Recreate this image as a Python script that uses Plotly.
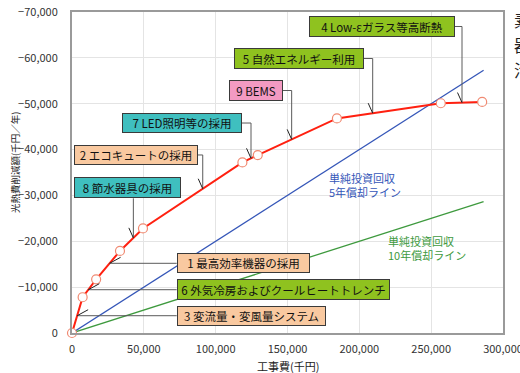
import numpy as np
import plotly.graph_objects as go

# Cumulative construction cost (thousand yen) and annual utility-cost saving (thousand yen/yr)
cost_k = [0, 7400, 16800, 33400, 49400, 118600, 129300, 184400, 256700, 285500]
saving_k = [0, -7800, -11700, -17900, -22800, -37200, -38800, -46800, -50100, -50400]

# Measures, in the order they are added along the curve
measure_names = [
    "3 変流量・変風量システム",
    "6 外気冷房およびクールヒートトレンチ",
    "1 最高効率機器の採用",
    "8 節水器具の採用",
    "2 エコキュートの採用",
    "7 LED照明等の採用",
    "9 BEMS",
    "5 自然エネルギー利用",
    "4 Low-εガラス等高断熱",
]

# Simple-payback reference lines
payback_x = [0, 286500]
payback5_y = [0, -57300]
payback10_y = [0, -28650]

x_ticks = [0, 50000, 100000, 150000, 200000, 250000, 300000]
y_ticks = [0, -10000, -20000, -30000, -40000, -50000, -60000, -70000]

# ---- layout geometry ----
W, H = 520, 373
ML, MR, MT, MB = 72, 17, 12, 40
PW, PH = W - ML - MR, H - MT - MB
XU = 300000 / PW   # data units per pixel (x)
YU = 70000 / PH    # data units per pixel (y)

PEACH, GREEN, TEAL, PINK = "#f9c9a0", "#8fc21f", "#3fbfbf", "#f39ac2"

# label box placement: left edge (x), centre (y), width/height (px), fill, callout kind, callout x
label_boxes = [
    dict(x=72880, y=-3770, w=149, h=20, fill=PEACH, kind="left"),
    dict(x=72880, y=-9440, w=213, h=21, fill=GREEN, kind="left"),
    dict(x=72880, y=-15200, w=133, h=20, fill=PEACH, kind="left"),
    dict(x=1390, y=-31660, w=107, h=21, fill=TEAL, kind="bottom", xe=42700),
    dict(x=1390, y=-38820, w=124, h=20, fill=PEACH, kind="right", xe=91000),
    dict(x=34800, y=-45790, w=120, h=20, fill=TEAL, kind="right", xe=124600),
    dict(x=109280, y=-52880, w=54, h=21, fill=PINK, kind="right", xe=152900),
    dict(x=112760, y=-59860, w=130, h=21, fill=GREEN, kind="right", xe=209300),
    dict(x=164970, y=-66840, w=146, h=21, fill=GREEN, kind="right", xe=271460),
]

FONT = "Noto Sans CJK JP, Noto Sans, Arial, sans-serif"

fig = go.Figure()

fig.add_trace(go.Scatter(
    x=payback_x, y=payback10_y, mode="lines",
    line=dict(color="#3e9a3e", width=1.3), hoverinfo="skip"))
fig.add_trace(go.Scatter(
    x=payback_x, y=payback5_y, mode="lines",
    line=dict(color="#3556b8", width=1.3), hoverinfo="skip"))
fig.add_trace(go.Scatter(
    x=cost_k, y=saving_k, mode="lines+markers",
    line=dict(color="#ff2010", width=2),
    marker=dict(size=9, color="white", line=dict(color="#f08a72", width=1.2)),
    cliponaxis=False))

shapes = []
annotations = []
cost_arr = np.array(cost_k, dtype=float)
sav_arr = np.array(saving_k, dtype=float)

for name, b in zip(measure_names, label_boxes):
    left = b["x"]
    right = left + b["w"] * XU
    cy = b["y"]
    bottom = cy + b["h"] / 2 * YU
    if b["kind"] == "left":
        ye = cy
        xe = float(np.interp(-ye, -sav_arr, cost_arr))
        path = f"M {left},{cy} L {xe},{ye}"
        tick = f"M {xe},{ye} L {xe + 11 * XU},{ye - 6 * YU}"
    else:
        xe = b["xe"]
        ye = float(np.interp(xe, cost_arr, sav_arr))
        if b["kind"] == "right":
            path = f"M {right},{cy} L {xe},{cy} L {xe},{ye}"
        else:
            path = f"M {xe},{bottom} L {xe},{ye}"
        tick = f"M {xe - 4.5 * XU},{ye - 10 * YU} L {xe},{ye}"
    shapes.append(dict(type="path", path=path, xref="x", yref="y",
                       line=dict(color="#5a5a5a", width=1), layer="above"))
    shapes.append(dict(type="path", path=tick, xref="x", yref="y",
                       line=dict(color="#222222", width=1), layer="above"))
    annotations.append(dict(
        x=left, y=cy, xref="x", yref="y", xanchor="left", yanchor="middle",
        text=name, showarrow=False, align="center",
        width=b["w"] - 2, height=b["h"] - 2, borderpad=0,
        bgcolor=b["fill"], bordercolor="#3a3a3a", borderwidth=1,
        font=dict(family=FONT, size=11.5, color="#111111")))

# payback line captions
annotations.append(dict(
    x=177490, y=-32380, xref="x", yref="y", xanchor="left", yanchor="middle",
    text="単純投資回収<br>5年償却ライン", showarrow=False, align="left",
    font=dict(family=FONT, size=11, color="#3556b8")))
annotations.append(dict(
    x=218560, y=-18645, xref="x", yref="y", xanchor="left", yanchor="middle",
    text="単純投資回収<br>10年償却ライン", showarrow=False, align="left",
    font=dict(family=FONT, size=11, color="#3e9a3e")))

# axis titles
annotations.append(dict(
    x=(15 - ML) / PW, y=(H - MB - 162) / PH, xref="paper", yref="paper",
    text="光熱費削減額(千円／年)", textangle=-90, showarrow=False,
    xanchor="center", yanchor="middle",
    font=dict(family=FONT, size=9.5, color="#222222")))
annotations.append(dict(
    x=0.5, y=(H - MB - 366) / PH, xref="paper", yref="paper",
    text="工事費(千円)", showarrow=False, xanchor="center", yanchor="middle",
    font=dict(family=FONT, size=11, color="#222222")))

# adjoining text column at the right edge
for i, ch in enumerate(["素", "器", "活"]):
    annotations.append(dict(
        x=(512 - ML) / PW, y=(H - MB - (19 + 25 * i)) / PH, xref="paper", yref="paper",
        text=ch, showarrow=False, xanchor="left", yanchor="middle",
        font=dict(family=FONT, size=17, color="#222222")))

fig.update_layout(
    width=W, height=H,
    margin=dict(l=ML, r=MR, t=MT, b=MB, autoexpand=False),
    paper_bgcolor="white", plot_bgcolor="white",
    showlegend=False,
    shapes=shapes, annotations=annotations,
    font=dict(family=FONT, size=11, color="#333333"),
)
fig.update_xaxes(
    range=[0, 300000], tickvals=x_ticks, tickformat=",d",
    showgrid=True, gridcolor="#e4e4e4", gridwidth=1,
    showline=True, mirror=True, linecolor="#9a9a9a", linewidth=2,
    ticks="", ticklabelstandoff=5, ticklabeloverflow="allow", zeroline=False,
    automargin=False,
    tickfont=dict(family=FONT, size=11, color="#333333"))
fig.update_yaxes(
    range=[0, -70000], tickvals=y_ticks, tickformat=",d",
    showgrid=True, gridcolor="#e4e4e4", gridwidth=1,
    showline=True, mirror=True, linecolor="#9a9a9a", linewidth=2,
    ticks="", ticklabelstandoff=10, zeroline=False,
    automargin=False,
    tickfont=dict(family=FONT, size=11, color="#333333"))

fig.write_html("out.html")
